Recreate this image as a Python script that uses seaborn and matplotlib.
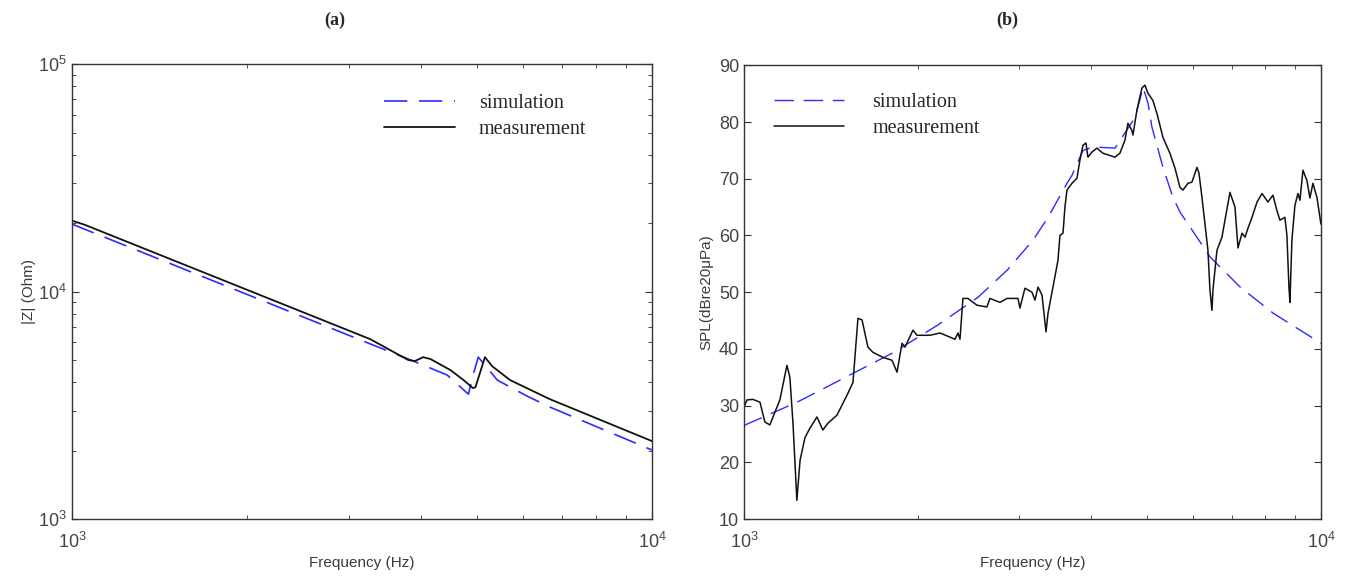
import numpy as np
import pandas as pd
import matplotlib
matplotlib.use('Agg')
import matplotlib.pyplot as plt
import seaborn as sns

sns.set_style('ticks')
plt.rcParams['font.family'] = ['Liberation Sans', 'DejaVu Sans']
plt.rcParams['mathtext.fontset'] = 'custom'
plt.rcParams['mathtext.rm'] = 'Liberation Sans'

# (a) impedance magnitude, Hz -> Ohm
z_sim_f = [1000, 3304, 3873, 4433, 4823, 4913, 5015, 5152, 5408, 6087, 6665, 10000]
z_sim = [19800, 5820, 4955, 4296, 3540, 4296, 5150, 4750, 4083, 3473, 3107, 2010]

z_meas_f = [1000, 1050, 3266, 3800, 3900, 4030, 4150, 4490, 4750, 4910, 4960,
            5150, 5300, 5690, 6665, 10000]
z_meas = [20500, 19700, 6180, 5000, 4950, 5150, 5050, 4520, 4050, 3765, 3800,
          5150, 4700, 4083, 3365, 2200]

# (b) sound pressure level, Hz -> dB
spl_sim_f = [1000, 1236, 1467, 1811, 2167, 2545, 2860, 3171, 3366, 3630, 3702,
             3869, 4027, 4397, 4762, 4918, 5015, 5094, 5324, 5541, 5700, 6427,
             7244, 8264, 10000]
spl_sim = [26.5, 30.6, 34.5, 39.3, 44.2, 49.1, 53.9, 59.2, 63.2, 69.2, 70.6,
           75.0, 75.6, 75.4, 80.8, 86.1, 83.3, 79.1, 72.0, 66.7, 64.1, 56.2,
           50.9, 46.3, 41.0]

spl_meas_f = [1000, 1012, 1036, 1066, 1087, 1109, 1132, 1154, 1187, 1201, 1216,
              1235, 1251, 1276, 1301, 1338, 1370, 1398, 1449, 1508, 1545, 1576,
              1602, 1640, 1673, 1741, 1805, 1842, 1879, 1901, 1963, 1994, 2034,
              2100, 2186, 2212, 2321, 2349, 2368, 2396, 2444, 2534, 2637, 2669,
              2778, 2857, 2985, 3008, 3069, 3156, 3194, 3233, 3285, 3338, 3365,
              3432, 3501, 3529, 3572, 3600, 3629, 3703, 3777, 3822, 3868, 3915,
              3946, 4009, 4090, 4189, 4308, 4395, 4483, 4574, 4629, 4703, 4722,
              4798, 4895, 4954, 5013, 5114, 5197, 5323, 5473, 5584, 5696, 5765,
              5881, 5976, 6097, 6146, 6220, 6370, 6421, 6473, 6499, 6604, 6737,
              6818, 6955, 7096, 7181, 7298, 7386, 7475, 7595, 7749, 7904, 8092,
              8256, 8389, 8490, 8661, 8731, 8801, 8836, 8906, 9014, 9123, 9196,
              9307, 9456, 9570, 9685, 9842, 10000]
spl_meas = [29.7, 31.0, 31.1, 30.6, 27.1, 26.6, 28.9, 31.0, 37.1, 35.0, 26.9,
            13.3, 20.4, 24.4, 26.0, 28.0, 25.7, 26.9, 28.3, 31.8, 34.1, 45.4,
            45.1, 40.3, 39.4, 38.5, 38.0, 35.9, 41.0, 40.3, 43.3, 42.4, 42.4,
            42.4, 42.8, 42.6, 41.7, 42.8, 41.7, 48.9, 48.9, 47.7, 47.4, 48.9,
            48.2, 48.9, 48.9, 47.2, 50.7, 50.0, 48.6, 50.9, 49.5, 43.0, 46.3,
            50.9, 55.6, 60.0, 60.4, 65.0, 68.0, 69.2, 70.1, 73.3, 75.9, 76.3,
            73.8, 74.7, 75.4, 74.5, 74.1, 73.8, 74.5, 76.8, 79.8, 78.5, 77.7,
            82.1, 86.0, 86.5, 85.1, 83.8, 81.5, 77.3, 74.5, 71.9, 68.5, 68.0,
            69.2, 69.4, 72.0, 71.0, 66.7, 57.4, 50.4, 46.8, 50.4, 57.4, 59.7,
            62.7, 67.6, 65.0, 57.8, 60.4, 59.7, 61.3, 63.2, 65.9, 67.4, 65.9,
            67.1, 64.4, 62.7, 63.2, 60.0, 50.9, 48.2, 59.2, 65.3, 67.4, 66.2,
            71.5, 69.7, 66.6, 69.2, 66.7, 62.0]

blue = '#2b2bff'
dash = (0, (14, 7))
gray = '#3a3a3a'

fig = plt.figure(figsize=(13.49, 5.78), dpi=100)
ax1 = fig.add_axes([0.0534, 0.102, 0.430, 0.787])
ax2 = fig.add_axes([0.5515, 0.102, 0.4277, 0.785])

sns.lineplot(x=z_sim_f, y=z_sim, ax=ax1, color=blue, linestyle=dash, lw=1.2,
             estimator=None, sort=False, label='simulation')
sns.lineplot(x=z_meas_f, y=z_meas, ax=ax1, color='#111111', lw=1.3,
             estimator=None, sort=False, label='measurement')
ax1.set_xscale('log')
ax1.set_yscale('log')
ax1.set_xlim(1e3, 1e4)
ax1.set_ylim(1e3, 1e5)
ax1.set_ylabel('|Z| (Ohm)', fontsize=11, color=gray, labelpad=2)

sns.lineplot(x=spl_sim_f, y=spl_sim, ax=ax2, color=blue, linestyle=dash, lw=1.0,
             estimator=None, sort=False, label='simulation')
sns.lineplot(x=spl_meas_f, y=spl_meas, ax=ax2, color='#111111', lw=1.1,
             estimator=None, sort=False, label='measurement')
ax2.set_xscale('log')
ax2.set_xlim(1e3, 1e4)
ax2.set_ylim(10, 90)
ax2.set_yticks(range(10, 91, 10))
ax2.set_ylabel('SPL(dBre20\u03bcPa)', fontsize=11, color=gray)

for ax in (ax1, ax2):
    ax.set_xlabel('Frequency (Hz)', fontsize=11, color=gray, labelpad=3)
    ax.tick_params(which='both', direction='in', top=True, right=True,
                   colors='#333333', labelsize=13, labelcolor='#444444')
    ax.tick_params(which='major', length=5)
    ax.tick_params(which='minor', length=3)
    ax.tick_params(axis='x', which='major', pad=9)
    for s in ax.spines.values():
        s.set_color('#333333')
        s.set_linewidth(1.0)

leg_font = {'family': 'Liberation Serif', 'size': 14.5}
ax1.legend(loc='upper right', bbox_to_anchor=(0.918, 0.975), frameon=False,
           prop=leg_font, handlelength=3.5, handletextpad=1.2, labelspacing=0.35)
ax2.legend(loc='upper left', bbox_to_anchor=(0.02, 0.98), frameon=False,
           prop=leg_font, handlelength=3.5, handletextpad=1.4, labelspacing=0.35)

fig.text(0.248, 0.965, '(a)', ha='center', va='center', fontsize=13,
         fontweight='bold', family='Liberation Serif')
fig.text(0.747, 0.965, '(b)', ha='center', va='center', fontsize=13,
         fontweight='bold', family='Liberation Serif')

fig.savefig('out.png', dpi=100)
